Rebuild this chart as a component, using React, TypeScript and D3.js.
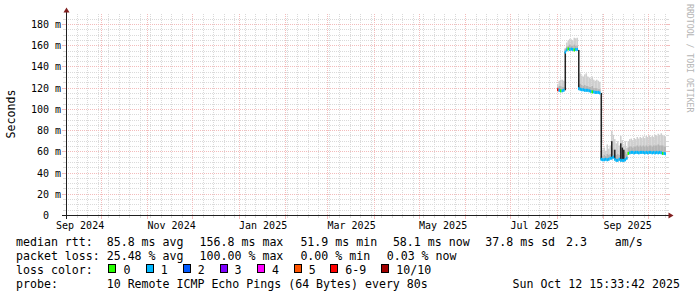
import React from "react";
import * as d3 from "d3";

// ---------- data ----------
const days = [
  "2025-08-01","2025-08-02","2025-08-03","2025-08-04","2025-08-05","2025-08-06","2025-08-07","2025-08-08","2025-08-09","2025-08-10",
  "2025-08-11","2025-08-12","2025-08-13","2025-08-14","2025-08-15","2025-08-16","2025-08-17","2025-08-18","2025-08-19","2025-08-20",
  "2025-08-21","2025-08-22","2025-08-23","2025-08-24","2025-08-25","2025-08-26","2025-08-27","2025-08-28","2025-08-29","2025-08-30",
  "2025-08-31","2025-09-01","2025-09-02","2025-09-03","2025-09-04","2025-09-05","2025-09-06","2025-09-07","2025-09-08","2025-09-09",
  "2025-09-10","2025-09-11","2025-09-12","2025-09-13","2025-09-14","2025-09-15","2025-09-16","2025-09-17","2025-09-18","2025-09-19",
  "2025-09-20","2025-09-21","2025-09-22","2025-09-23","2025-09-24","2025-09-25","2025-09-26","2025-09-27","2025-09-28","2025-09-29",
  "2025-09-30","2025-10-01","2025-10-02","2025-10-03","2025-10-04","2025-10-05","2025-10-06","2025-10-07","2025-10-08","2025-10-09",
  "2025-10-10","2025-10-11","2025-10-12",
];

// median rtt (ms)
const medianMs = [
  118.5,118,117.5,117.5,118,
  154,156,157,156.5,156.8,156.5,156,156.5,156.5,
  119.5,119,118.5,118.5,118,118,118,117.5,117,116.5,116.5,116,116,116,115.5,
  53,52.5,
  52.5,53,52.5,53,54,54,55,53,52,52,53,52,52,51.9,52.5,54,
  58.5,59,59.5,59.5,59,59.5,59.5,59,59.5,59.5,59.5,59,59.5,59,
  59.5,59.5,59,59.5,59,59.5,59,59.5,59,58.5,58.5,58.1,
];

// top of the light smoke (ms)
const smokeHighMs = [
  124,127,128,128,127,
  158,163,165,166.5,166,165,167.5,167,167.5,
  128,134,132,131,133,134,131,130,129,131,128,127,128,127,126,
  60,62,
  64,61,67,63,66,80,76,72,68,70,66,75,71,66,70,64,
  70,72,72.5,71,73,72,74,72.5,74,73,74.5,73,75,74,
  75.5,74,75,74,76,75,77,76,77.5,76,75,74,
];

// top of the darker smoke (ms)
const smokeMidMs = [
  121,122,122,121,121,
  157,159,160,161,160,160,161,160,160,
  123,124,123,122,123,122,122,121,121,122,120,120,120,119,119,
  56,56,
  57,56,58,57,58,64,62,58,57,58,57,62,60,57,60,58,
  64,65,65,64,65,65,66,65,66,65,66,65,66,65,
  66,66,65,66,66,66,67,66,66,66,65,65,
];

// loss colour index per day (0 = "0", 1 = "1", ... 6 = "6-9", 7 = "10/10")
const lossIndex = [
  6,1,0,1,1,
  1,1,0,1,1,1,0,1,1,
  1,1,1,1,1,1,1,1,1,0,1,1,1,1,1,
  1,1,
  1,1,1,1,1,1,1,1,1,1,1,1,1,1,1,1,
  0,1,1,1,1,1,1,1,1,1,1,1,1,1,
  1,1,1,1,1,1,1,1,1,0,1,1,
];

// days where the inner smoke spans a wide range (dark columns)
const darkDays = ["2025-08-06","2025-08-15","2025-08-30","2025-09-06","2025-09-08","2025-09-12","2025-09-13","2025-09-14"];
const darkLowMs = [118, 119.5, 53, 54, 53, 52, 52, 52];
const darkHighMs = [154, 156, 115.5, 70, 62, 68, 64, 62];

const yTickValues = [0, 20, 40, 60, 80, 100, 120, 140, 160, 180];
const xLabelMonths = ["2024-09-01","2024-11-01","2025-01-01","2025-03-01","2025-05-01","2025-07-01","2025-09-01"];

const lossLabels = ["0","1","2","3","4","5","6-9","10/10"];
const lossColors = ["#26ff00","#00b8ff","#0059ff","#7e00ff","#ff00ff","#ff5500","#ff0000","#a10000"];

const rttLegend = ["median rtt:","85.8 ms avg","156.8 ms max","51.9 ms min","58.1 ms now","37.8 ms sd","2.3","am/s"];
const lossLegend = ["packet loss:","25.48 % avg","100.00 % max","0.00 % min","0.03 % now"];
const probeLegend = ["probe:","10 Remote ICMP Echo Pings (64 Bytes) every 80s"];
const stampText = "Sun Oct 12 15:33:42 2025";
const endTime = "2025-10-12T15:33:42Z";

// ---------- layout ----------
const W = 697, H = 297;
const rttX = [16, 106.7, 199.6, 300.4, 392.9, 485.3, 566, 614.7];
const lossX = [16, 106.7, 199.6, 300.4, 386.7];
const probeX = [16, 106.7];
const boxX = [108.4, 145.8, 182.7, 219.6, 256.9, 293.8, 330.2, 381.3];
const MONO = "'DejaVu Sans Mono', monospace";

export default function App() {
  const parse = d3.utcParse("%Y-%m-%d");
  const END = new Date(endTime);
  const START = d3.utcDay.offset(END, -400);
  const x = d3.scaleUtc().domain([START, END]).range([66, 666]);
  const y = d3.scaleLinear().domain([0, 180]).range([215.5, 24.5]);
  const snap = (v: number) => Math.floor(v) + 0.5;
  const plotTop = 14, plotBottom = 215.5, plotLeft = 66, plotRight = 666;
  const fmt = d3.utcFormat("%b %Y");

  const rows = days.map((d, i) => {
    const t = parse(d)!;
    return { x0: x(t), x1: Math.min(x(d3.utcDay.offset(t, 1)), plotRight), med: medianMs[i], hi: smokeHighMs[i], mid: smokeMidMs[i], loss: lossIndex[i] };
  });
  const darks = darkDays.map((d, i) => {
    const t = parse(d)!;
    return { x0: x(t), x1: x(d3.utcDay.offset(t, 1)), lo: darkLowMs[i], hi: darkHighMs[i] };
  });

  const weeks = d3.utcSunday.range(START, END).map((t) => snap(x(t))).filter((v) => v > plotLeft + 1 && v < plotRight);
  const months = d3.utcMonth.range(START, END).map((t) => snap(x(t))).filter((v) => v > plotLeft + 1 && v < plotRight);
  const minorY = d3.range(5, 190, 5).filter((v) => v % 20 !== 0).map((v) => snap(y(v))).filter((v) => v > plotTop);
  const majorY = yTickValues.filter((v) => v > 0).map((v) => snap(y(v)));

  const minorCol = "#dadada";
  const majorCol = "#f3bcbc";

  return (
    <svg width={W} height={H} style={{ position: "absolute", left: 0, top: 0, background: "#fff" }} xmlns="http://www.w3.org/2000/svg">
      <rect x={0} y={0} width={W} height={H} fill="#ffffff" />
      {/* minor grid */}
      <g shapeRendering="crispEdges">
        {weeks.map((v, i) => (
          <g key={"w" + i}>
            <line x1={v} x2={v} y1={plotTop} y2={plotBottom} stroke={minorCol} strokeDasharray="1,1" />
            <line x1={v} x2={v} y1={216} y2={218} stroke={minorCol} />
          </g>
        ))}
        {minorY.map((v, i) => (
          <g key={"h" + i}>
            <line x1={plotLeft} x2={plotRight} y1={v} y2={v} stroke={minorCol} strokeDasharray="1,1" />
            <line x1={63} x2={66} y1={v} y2={v} stroke={minorCol} />
            <line x1={666} x2={669} y1={v} y2={v} stroke={minorCol} />
          </g>
        ))}
        {months.map((v, i) => (
          <g key={"m" + i}>
            <line x1={v} x2={v} y1={plotTop} y2={plotBottom} stroke={majorCol} strokeDasharray="1,1" />
            <line x1={v} x2={v} y1={216} y2={219} stroke={majorCol} />
          </g>
        ))}
        {majorY.map((v, i) => (
          <g key={"M" + i}>
            <line x1={plotLeft} x2={plotRight} y1={v} y2={v} stroke={majorCol} strokeDasharray="1,1" />
            <line x1={62} x2={66} y1={v} y2={v} stroke={majorCol} />
            <line x1={666} x2={670} y1={v} y2={v} stroke={majorCol} />
          </g>
        ))}
      </g>

      {/* smoke */}
      <g>
        {rows.map((r, i) => (
          <rect key={"s" + i} x={r.x0} width={r.x1 - r.x0} y={y(r.hi)} height={y(r.med) + 1 - y(r.hi)} fill="#cfcfcf" />
        ))}
        {rows.map((r, i) => (
          <rect key={"sm" + i} x={r.x0} width={r.x1 - r.x0} y={y(r.mid)} height={y(r.med) + 1 - y(r.mid)} fill="#b4b4b4" />
        ))}
        {darks.map((r, i) => (
          <rect key={"d" + i} x={r.x0} width={r.x1 - r.x0} y={y(r.hi)} height={y(r.lo) - y(r.hi)} fill="#222222" />
        ))}
        {rows.map((r, i) => (
          <rect key={"b" + i} x={r.x0} width={r.x1 - r.x0} y={y(r.med) - 1.5} height={3} fill={lossColors[r.loss]} />
        ))}
      </g>

      {/* axes */}
      <g shapeRendering="crispEdges">
        <line x1={62} x2={670} y1={215.5} y2={215.5} stroke="#1f1f1f" />
        <line x1={66.5} x2={66.5} y1={219} y2={12} stroke="#1f1f1f" />
      </g>
      <path d="M66.5,7.5 L63.5,12.5 L69.5,12.5 Z" fill="#801f1f" />
      <path d="M673.5,215.5 L668.5,212.5 L668.5,218.5 Z" fill="#801f1f" />

      {/* axis labels */}
      <g fontFamily={MONO} fontSize={10} fill="#000">
        {yTickValues.map((v) => (
          <text key={"yl" + v} x={v === 0 ? 49 : 61} y={y(v) + 3.5} textAnchor="end">
            {v === 0 ? "0" : `${v} m`}
          </text>
        ))}
        {xLabelMonths.map((m) => {
          const t = parse(m)!;
          return (
            <text key={"xl" + m} x={x(t)} y={228.5} textAnchor="start">
              {fmt(t)}
            </text>
          );
        })}
      </g>

      <text transform="translate(15,114) rotate(-90)" textAnchor="middle" fontFamily={MONO} fontSize={11.6} fill="#000">
        Seconds
      </text>
      <text transform="translate(693,4) rotate(90)" x={0} y={6} fontFamily={MONO} fontSize={8.2} fill="#b4b4b4">
        RRDTOOL / TOBI OETIKER
      </text>

      {/* legend */}
      <g fontFamily={MONO} fontSize={11.6} fill="#000" style={{ whiteSpace: "pre" }}>
        {rttLegend.map((s, i) => (
          <text key={"r" + i} x={rttX[i]} y={245.5}>{s}</text>
        ))}
        {lossLegend.map((s, i) => (
          <text key={"l" + i} x={lossX[i]} y={259.5}>{s}</text>
        ))}
        <text x={16} y={273.5}>loss color:</text>
        {lossLabels.map((s, i) => (
          <g key={"lc" + i}>
            <rect x={boxX[i] + 0.5} y={264.5} width={7} height={8} fill={lossColors[i]} stroke="#000" strokeWidth={1} shapeRendering="crispEdges" />
            <text x={boxX[i] + 15} y={273.5}>{s}</text>
          </g>
        ))}
        {probeLegend.map((s, i) => (
          <text key={"p" + i} x={probeX[i]} y={288}>{s}</text>
        ))}
        <text x={680} y={288} textAnchor="end">{stampText}</text>
      </g>
    </svg>
  );
}
